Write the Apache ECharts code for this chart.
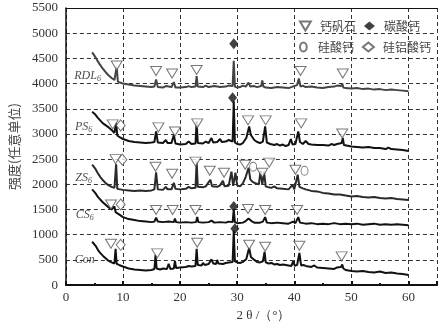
<!DOCTYPE html>
<html><head><meta charset="utf-8">
<script src="https://cdn.jsdelivr.net/npm/echarts@6/dist/echarts.min.js"></script>
<style>html,body{margin:0;padding:0;background:#fff}#c{width:440px;height:327px}</style>
</head><body><div id="c"></div>
<script>
// ---------- data (2θ in degrees, intensity in arbitrary units) ----------
const rdl6 = [[4.6,4620],[5.2,4520],[5.6,4440],[6,4370],[6.5,4290],[7,4220],[7.5,4160],[8,4110],[8.5,4070],[8.9,4330],[9.1,4040],[9.5,4020],[10,4000],[11,3980],[12,3960],[13,3950],[14,3940],[15,3930],[15.5,3940],[15.8,4080],[16.1,3930],[17,3920],[17.5,3950],[17.8,3920],[18.5,3930],[18.9,4030],[19.2,3920],[20,3920],[21,3930],[21.5,3950],[22,3930],[22.7,3940],[22.9,4150],[23.1,3940],[24,3930],[24.5,3960],[25,3930],[26,3950],[27,3930],[28,3940],[28.5,3960],[29.2,3950],[29.4,4450],[29.6,3940],[30,3920],[30.5,3930],[31,3960],[31.5,3940],[32,4020],[32.3,3940],[33,3950],[33.5,3930],[34.2,3950],[34.4,4060],[34.6,3940],[35,3920],[36,3910],[37,3930],[38,3920],[39,3910],[39.7,3940],[40,3920],[40.5,3970],[40.8,4100],[41.1,3940],[41.5,3960],[42,3930],[43,3940],[44,3920],[45,3910],[46,3930],[47,3940],[47.5,3960],[48.2,3950],[48.4,4000],[48.6,3920],[49,3910],[50,3900],[51,3910],[52,3890],[53,3900],[54,3880],[55,3890],[56,3870],[57,3880],[58,3870],[59,3860],[60,3850]];
const ps6 = [[4.6,3440],[5.2,3380],[5.6,3320],[6,3270],[6.5,3210],[7,3170],[7.5,3130],[8,3080],[8.5,3020],[8.8,3220],[9,2970],[9.5,2930],[10,2900],[11,2860],[12,2840],[13,2830],[14,2820],[15,2830],[15.5,2840],[15.8,3050],[16.1,2830],[17,2820],[17.5,2880],[17.8,2820],[18.5,2820],[18.9,2980],[19.2,2810],[20,2790],[21,2800],[21.5,2850],[22,2800],[22.7,2810],[22.9,3250],[23.1,2820],[24,2810],[24.5,2850],[25,2820],[25.5,2920],[25.8,2830],[26.5,2840],[27,2900],[27.3,2840],[28,2850],[28.5,2880],[29.2,2850],[29.4,3650],[29.6,2830],[30,2800],[30.5,2790],[31,2820],[31.6,2920],[32.1,3150],[32.4,2980],[33,2880],[33.5,2840],[34,2820],[34.5,2850],[34.9,3150],[35.2,2830],[35.8,2800],[36.5,2780],[37,2800],[37.5,2770],[38,2790],[38.5,2760],[39,2780],[39.4,2900],[39.7,2790],[40.2,2800],[40.7,3050],[41,2840],[41.5,2800],[42,2860],[42.5,2800],[43,2790],[44,2780],[45,2780],[46,2770],[46.5,2800],[47,2780],[47.5,2800],[48.3,2820],[48.5,2920],[48.7,2780],[49,2760],[50,2750],[51,2740],[52,2730],[53,2740],[54,2720],[55,2720],[56,2700],[56.5,2730],[57,2700],[58,2690],[59,2680],[60,2660]];
const zs6 = [[4.6,2390],[5.2,2300],[5.6,2220],[6,2150],[6.5,2080],[7,2020],[7.5,1980],[8,1950],[8.5,1930],[8.8,2400],[9,1910],[9.5,1900],[10,1890],[11,1880],[12,1870],[13,1880],[14,1870],[15,1880],[15.5,1900],[15.8,2240],[16.1,1900],[17,1890],[17.5,1950],[17.8,1900],[18.5,1900],[18.9,2030],[19.2,1910],[20,1900],[21,1910],[21.5,1950],[22,1920],[22.7,1930],[22.9,2450],[23.1,1950],[24,1940],[24.5,1960],[25.3,2090],[25.6,1960],[26.5,1950],[27,1980],[27.5,2070],[27.8,1960],[28.5,1970],[29,2250],[29.3,1970],[29.7,2230],[30,1980],[30.5,1960],[31,2020],[31.5,2150],[32,2330],[32.3,2100],[32.7,2050],[33.2,2020],[33.8,2000],[34.1,2270],[34.4,1990],[34.7,2250],[35,1960],[35.5,1940],[36,1930],[36.5,1960],[37,1920],[38,1910],[39,1900],[39.7,1990],[40,1900],[40.6,2190],[40.9,1950],[41.5,1920],[42,1900],[43,1870],[44,1860],[45,1830],[46,1820],[47,1800],[48,1800],[49,1780],[50,1760],[51,1770],[52,1750],[53,1740],[54,1750],[55,1730],[56,1720],[57,1730],[58,1710],[59,1700],[60,1690]];
const cs6 = [[4.6,1900],[5.2,1820],[5.6,1750],[6,1700],[6.5,1640],[7,1590],[7.5,1540],[8,1500],[8.2,1470],[8.5,1560],[8.7,1450],[9,1420],[9.5,1390],[10,1350],[10.5,1330],[11,1310],[12,1290],[13,1270],[14,1260],[15,1250],[15.5,1260],[15.8,1340],[16.1,1260],[17,1250],[18,1260],[18.9,1250],[19.1,1320],[19.3,1250],[20,1240],[21,1250],[22,1240],[22.8,1250],[23,1350],[23.2,1250],[24,1240],[25,1250],[25.5,1280],[26,1240],[27,1250],[28,1240],[28.5,1260],[29.2,1250],[29.4,1500],[29.6,1250],[30,1230],[31,1240],[31.5,1270],[32,1320],[32.5,1270],[33,1240],[34,1240],[34.5,1260],[34.9,1350],[35.2,1240],[36,1230],[37,1240],[38,1230],[39,1220],[39.8,1260],[40.2,1230],[40.7,1350],[41,1240],[42,1220],[43,1230],[44,1210],[45,1220],[46,1210],[47,1230],[48,1210],[49,1220],[50,1210],[51,1220],[52,1200],[53,1210],[54,1220],[55,1200],[56,1210],[57,1200],[58,1210],[59,1200],[60,1190]];
const con = [[4.6,860],[5.2,780],[5.6,700],[6,640],[6.5,580],[7,530],[7.5,480],[8,450],[8.5,430],[8.7,720],[8.9,420],[9.3,400],[10,370],[10.5,350],[11,330],[12,310],[13,300],[14,290],[15,300],[15.5,320],[15.7,600],[15.9,330],[16.5,310],[17,330],[17.7,320],[18,420],[18.3,320],[18.9,330],[19.1,480],[19.3,340],[20,350],[21,360],[21.5,380],[22,370],[22.7,380],[22.9,720],[23.1,400],[23.8,390],[24,440],[24.3,400],[25,420],[25.5,510],[25.8,430],[26.3,420],[26.5,500],[26.7,430],[27.5,420],[28,440],[28.5,450],[29.2,460],[29.4,1080],[29.6,470],[30,450],[30.5,440],[31,460],[31.6,520],[32.1,740],[32.4,560],[33,500],[33.5,460],[34,450],[34.5,470],[34.8,660],[35,450],[35.5,430],[36,440],[36.5,410],[37,420],[37.5,400],[38,410],[39,390],[39.5,380],[39.8,470],[40.1,380],[40.5,400],[40.9,640],[41.2,390],[41.6,400],[42,380],[43,360],[43.5,390],[44,350],[45,340],[46,330],[47,320],[47.5,350],[48.2,360],[48.4,410],[48.6,330],[49,300],[50,280],[51,270],[52,280],[53,260],[54,250],[55,270],[56,240],[57,250],[58,230],[59,220],[60,200]];

// phase markers
const ettringite = [[8.9,4360],[15.8,4250],[18.6,4200],[22.9,4270],[41.1,4250],[48.5,4200],
  [8.2,3190],[16.2,3130],[19.1,3050],[23,3210],[31.9,3270],[35,3270],[41.2,3210],[48.4,3010],
  [8.7,2500],[15.7,2350],[18.6,2210],[22.7,2450],[25.2,2270],[27.7,2230],[31.4,2390],[34.4,2230],[35.6,2430],[40.2,2290],
  [7.9,1600],[15.8,1490],[18.7,1490],[22.7,1490],[31.9,1510],[34.9,1490],[40.5,1490],
  [7.9,820],[16,630],[23,840],[32.1,800],[34.9,760],[40.9,780],[48.3,570]];
const calcite = [[29.4,4790],[29.2,3720],[29.4,1560],[29.6,1120]];
const silicate = [[32.8,2350],[41.8,2270]];
const aluminosilicate = [[9.6,3170],[9.9,2490],[9.6,1600],[9.6,800]];

// sample labels [x, y, name, subscript]
const sampleLabels = [[3.8,4150,'RDL','6'],[3.1,3150,'PS','6'],[3.1,2130,'ZS','6'],[3.3,1390,'CS','6'],[3.3,510,'Con','']];

const xTicks = [0,10,20,30,40,50,60];
const yMax = 5500, yStep = 500;
const legendRow1 = ['钙矾石','碳酸钙'];
const legendRow2 = ['硅酸钙','硅铝酸钙'];

// ---------- chart ----------
const serif = 'Liberation Serif';
const cjk = 'Noto Sans CJK SC';
const chart = echarts.init(document.getElementById('c'), null, {renderer:'canvas'});

function line(name, data, color){
  return {type:'line', name, data, symbol:'none', smooth:false, silent:true,
    lineStyle:{color, width:2}, z:3, animation:false};
}
const hollow = {color:'#fff', borderColor:'#555', borderWidth:1};
const icons = {
  '钙矾石':'path://M0,0L12,0L6,10Z',
  '碳酸钙':'diamond',
  '硅酸钙':'path://M3,0A3,4,0,1,1,3,8A3,4,0,1,1,3,0Z',
  '硅铝酸钙':'diamond'
};
function legendCfg(names, top){
  return {
    data: names.map(n => ({name:n, icon:icons[n]})),
    left:294, top, itemWidth:11, itemHeight:9, itemGap:8, selectedMode:false,
    formatter: n => '{w|' + n + '}',
    textStyle:{fontFamily:cjk, fontSize:12, color:'#444',
      rich:{w:{width:35, padding:[0,0,0,4], fontFamily:cjk, fontSize:12, color:'#444'}}}
  };
}

chart.setOption({
  animation:false,
  grid:{left:61, right:1, top:8, bottom:38},
  legend:[legendCfg(legendRow1, 15), legendCfg(legendRow2, 36)],
  xAxis:[{
    type:'value', min:0, max:65, interval:10,
    axisLine:{lineStyle:{color:'#111', width:2}},
    axisTick:{inside:true, length:4, lineStyle:{color:'#111', width:2}},
    minorTick:{show:true, splitNumber:2, length:2, lineStyle:{color:'#111', width:2}},
    axisLabel:{fontFamily:serif, fontSize:13, color:'#333', margin:6,
      formatter:v => xTicks.includes(v) ? String(v) : ''},
    splitLine:{show:true, lineStyle:{color:'#333', type:[4,3], width:1},
      interval:(i,v)=> v>0 && v<=60},
    name:'2 θ /（°）', nameLocation:'middle', nameGap:23,
    nameTextStyle:{fontFamily:serif, fontSize:13, color:'#333', padding:[0,0,0,24]}
  },{
    type:'value', min:0, max:65, position:'top',
    axisLine:{show:true, onZero:false, lineStyle:{color:'#111', width:1}},
    axisTick:{show:false}, axisLabel:{show:false}, splitLine:{show:false}
  }],
  yAxis:{
    type:'value', min:0, max:yMax, interval:yStep,
    axisLine:{show:true, lineStyle:{color:'#111', width:1.5}},
    axisTick:{show:false},
    axisLabel:{fontFamily:serif, fontSize:13, color:'#333', margin:8, formatter:v => String(v)},
    splitLine:{show:true, lineStyle:{color:'#333', type:[4,3], width:1}},
    name:'强度(任意单位)', nameLocation:'middle', nameGap:43, nameRotate:90,
    nameTextStyle:{fontFamily:cjk, fontSize:13, color:'#444'}
  },
  series:[
    line('RDL6', rdl6, '#444'),
    line('PS6', ps6, '#111'),
    line('ZS6', zs6, '#2a2a2a'),
    line('CS6', cs6, '#111'),
    line('Con', con, '#111'),
    {type:'scatter', name:'钙矾石', data:ettringite, symbol:'triangle', symbolRotate:180,
      symbolSize:[11,9], itemStyle:hollow, z:5, silent:true},
    {type:'scatter', name:'碳酸钙', data:calcite, symbol:'diamond',
      symbolSize:[9,11], itemStyle:{color:'#111'}, z:5, silent:true},
    {type:'scatter', name:'硅酸钙', data:silicate, symbol:'circle',
      symbolSize:[7,9], itemStyle:hollow, z:5, silent:true},
    {type:'scatter', name:'硅铝酸钙', data:aluminosilicate, symbol:'diamond',
      symbolSize:[9,11], itemStyle:hollow, z:5, silent:true},
    {type:'scatter', name:'labels', data:sampleLabels, symbolSize:0, silent:true, z:6,
      label:{show:true, position:'inside',
        formatter:p => '{a|'+p.value[2]+'}' + (p.value[3] ? '{s|'+p.value[3]+'}' : ''),
        rich:{a:{fontFamily:serif, fontStyle:'italic', fontSize:12, color:'#222'},
              s:{fontFamily:serif, fontStyle:'italic', fontSize:8, color:'#222', padding:[6,0,0,0]}}}}
  ]
});
</script></body></html>
